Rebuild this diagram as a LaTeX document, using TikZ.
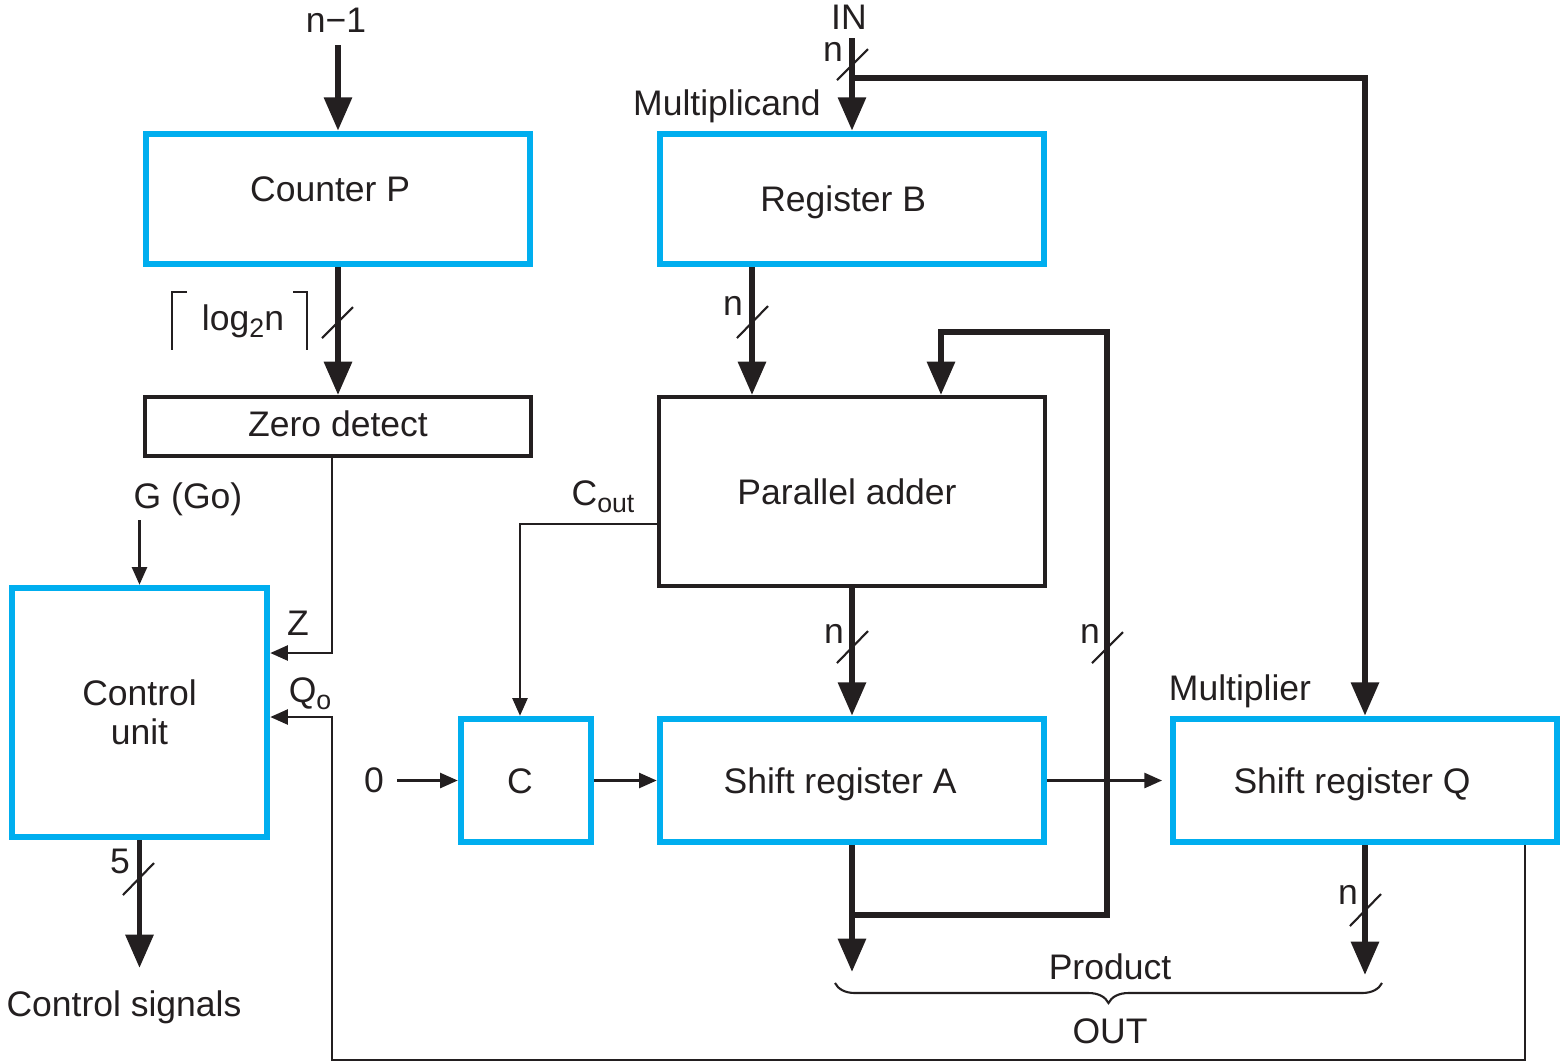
\documentclass[tikz,border=0pt]{standalone}
\usepackage{fontspec}
\setmainfont{Liberation Sans}
\usetikzlibrary{arrows.meta,calc,decorations.pathreplacing}
\definecolor{ink}{HTML}{231F20}
\definecolor{regblue}{HTML}{00AEEF}
% subscript set a little larger and lower than \textsubscript
\newcommand\lowsub[1]{\raisebox{-2.2pt}{\fontsize{7.6pt}{8pt}\selectfont #1}}

\begin{document}
\begin{tikzpicture}[x=0.01cm,y=-0.01cm,
  every node/.style={font=\fontsize{10.1pt}{11pt}\selectfont, text=ink},
  regbox/.style={draw=regblue, line width=1.85pt, inner sep=0pt},
  plainbox/.style={draw=ink, line width=1.1pt, inner sep=0pt},
  oneline/.style={text height=7.3pt, text depth=0pt},
  bus/.style={draw=ink, line width=1.7pt},
  busarrow/.style={bus, -{Triangle[length=9.5pt,width=7.7pt]}},
  wire/.style={draw=ink, line width=0.6pt},
  wirearrow/.style={wire, -{Triangle[length=5pt,width=4.3pt]}},
  busmark/.style={draw=ink, line width=0.6pt},
  lbl/.style={anchor=base, inner sep=0pt},
]
\useasboundingbox (0,0) rectangle (1562,1062);

% registers and logic blocks
\node[regbox, oneline, minimum width=3.84cm, minimum height=1.30cm] (cp) at (338,199) {\raisebox{3pt}{Counter P}\hspace*{4.5pt}};
\node[regbox, oneline, minimum width=3.84cm, minimum height=1.30cm] (rb) at (852,199) {Register B\hspace*{5pt}};
\node[plainbox, oneline, minimum width=3.86cm, minimum height=0.59cm] (zd) at (338,426.5) {\raisebox{0.8pt}{Zero detect}};
\node[plainbox, oneline, minimum width=3.86cm, minimum height=1.89cm] (pa) at (852,491.5) {Parallel adder\hspace*{2.8pt}};
\node[regbox, align=center, minimum width=2.55cm, minimum height=2.49cm] (cu) at (139.5,712.5) {Control\\unit};
\node[regbox, oneline, minimum width=1.30cm, minimum height=1.23cm] (c) at (526,780.5) {C\hspace*{3.4pt}};
\node[regbox, oneline, minimum width=3.84cm, minimum height=1.23cm] (sa) at (852,780.5) {Shift register A\hspace*{6.8pt}};
\node[regbox, oneline, minimum width=3.84cm, minimum height=1.23cm] (sq) at (1365,780.5) {Shift register Q\hspace*{7.4pt}};

% counter path
\node[lbl] (nm1) at (336,32) {n−1};
\coordinate (nm1in) at (338,45);
\draw[busarrow] (nm1in) -- (cp.north);
\draw[busarrow] (cp.south) -- (zd.north);
\draw[busmark] (322,338) -- (353,307);
\draw[wire] (187,292) -| (172,350);
\draw[wire] (293,292) -| (307,350);
\node[lbl] (logn) at (243,330) {log\lowsub{2}n};

% status inputs to the control unit
\draw[wirearrow] ($(zd.south)+(-6,0)$) |- ($(cu.east)+(0,-59.5)$);
\node[lbl] (zl) at (298,635) {Z};
\coordinate (qret) at (332,1060);
\draw[wirearrow] ($(sq.south east)+(-35,0)$) |- (qret) |- ($(cu.east)+(0,4.5)$);
\node[lbl] (q0) at (310,702) {Q\lowsub{o}};
\node[lbl] (go) at (188,508) {G (Go)};
\coordinate (goin) at (139.5,520);
\draw[wirearrow] (goin) -- (cu.north);

% control outputs
\coordinate (csig) at (139.5,968);
\draw[busarrow] (cu.south) -- (csig);
\draw[busmark] (123,895) -- (154,863);
\node[lbl] (five) at (120,873) {5};
\node[lbl] (csl) at (124,1016) {Control signals};

% input bus
\node[lbl] (in) at (849,29) {IN};
\coordinate (inl) at (852,38);
\coordinate (br) at (852,78);
\draw[busarrow] (inl) -- (rb.north);
\draw[busarrow] (br) -| (sq.north);
\draw[busmark] (837,80) -- (868,49);
\node[lbl] at (833,61) {n};
\node[lbl] (mcand) at (727,115) {Multiplicand};
\node[lbl] (mplier) at (1240,700) {Multiplier};

% datapath
\draw[busarrow] ($(rb.south)+(-100,0)$) -- ($(pa.north)+(-100,0)$);
\draw[busmark] (737,338) -- (768,306);
\node[lbl] at (733,315) {n};

\draw[busarrow] (pa.south) -- (sa.north);
\draw[busmark] (837,663) -- (868,631);
\node[lbl] at (834,643) {n};

\coordinate (fb1) at (852,915);
\coordinate (fb2) at (1107,332);
\draw[busarrow] (fb1) -| (fb2) -| ($(pa.north)+(89,0)$);
\draw[busmark] (1092,663) -- (1123,632);
\node[lbl] at (1090,643) {n};
\coordinate (aout) at (852,972);
\draw[busarrow] (sa.south) -- (aout);

\draw[wirearrow] ($(pa.west)+(0,32.5)$) -| ($(c.north)+(-6,0)$);
\node[lbl] (cout) at (603,505) {C\lowsub{out}};

\node[lbl] (zero) at (374,792) {0};
\coordinate (zin) at (397,780.5);
\draw[wirearrow] (zin) -- (c.west);
\draw[wirearrow] (c.east) -- (sa.west);
\coordinate (aq) at (1162,780.5);
\draw[wirearrow] (sa.east) -- (aq);

\coordinate (qout) at (1365,975);
\draw[busarrow] (sq.south) -- (qout);
\draw[busmark] (1350,926) -- (1381,894);
\node[lbl] at (1348,904) {n};

% product output
\draw[wire, decorate, decoration={brace, mirror, amplitude=0.2cm}] (835,983) -- (1382,983);
\node[lbl] (prod) at (1110,979) {Product};
\node[lbl] (outl) at (1110,1043) {OUT};
\end{tikzpicture}
\end{document}
